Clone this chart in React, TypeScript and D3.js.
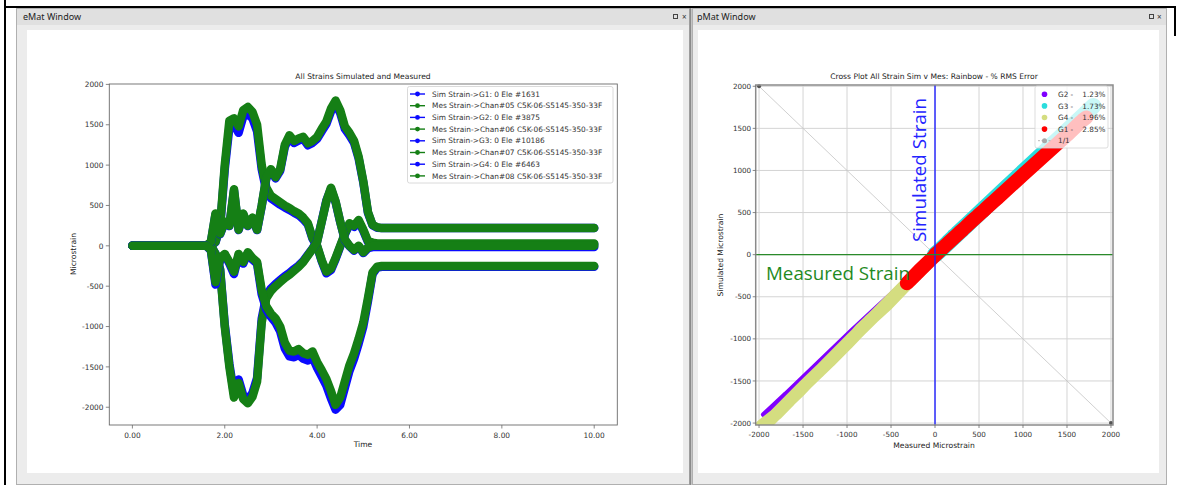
import React from 'react';
import * as d3 from 'd3';

// ---------- DATA ----------
const TIME = [0, 1.6, 1.7, 1.8, 1.9, 2.0, 2.1, 2.2, 2.3, 2.4, 2.5, 2.6, 2.7, 2.8, 2.9, 3.0, 3.1, 3.2, 3.3, 3.4, 3.5, 3.6, 3.7, 3.8, 3.9, 4.0, 4.1, 4.2, 4.3, 4.4, 4.5, 4.6, 4.7, 4.8, 4.9, 5.0, 5.1, 5.2, 5.3, 5.4, 10];

const G1_SIM = [0, 0, 0, 45, 235, 950, 1470, 1500, 1400, 1600, 1630, 1580, 1420, 950, 680, 590, 550, 510, 475, 445, 410, 380, 330, 265, 90, -10, -190, -340, -300, -165, -10, 140, 265, 235, 300, 185, 50, 30, 20, 20, 20];
const G1_MES = [0, 0, 0, 50, 250, 1000, 1550, 1580, 1480, 1680, 1720, 1660, 1500, 1000, 720, 620, 580, 540, 500, 470, 430, 400, 350, 280, 100, 0, -180, -320, -280, -150, 0, 150, 280, 250, 320, 200, 60, 40, 30, 30, 30];
const G2_SIM = [0, 0, 0, -97, -293, -975, -1462, -1833, -1657, -1852, -1900, -1823, -1638, -905, -615, -528, -472, -424, -376, -336, -288, -245, -188, -110, -35, 55, 305, 560, 705, 540, 295, 75, -5, -60, -10, -90, -30, -15, -15, -15, -15];
const G2_MES = [0, 0, 0, -100, -300, -1000, -1500, -1880, -1700, -1900, -1950, -1870, -1680, -950, -650, -560, -500, -450, -400, -360, -310, -260, -200, -120, -40, 50, 300, 550, 720, 550, 300, 80, 0, -50, 0, -80, -20, 0, 0, 0, 0];
const G3_SIM = [0, 0, 45, 390, 145, 290, 245, 685, 195, 390, 245, 340, 195, 490, 835, 930, 835, 930, 1225, 1340, 1275, 1305, 1325, 1245, 1275, 1325, 1420, 1510, 1665, 1765, 1645, 1450, 1370, 1275, 1080, 785, 410, 255, 225, 220, 220];
const G3_MES = [0, 0, 50, 400, 150, 300, 250, 700, 200, 400, 250, 350, 200, 500, 850, 950, 850, 950, 1250, 1370, 1300, 1330, 1350, 1270, 1300, 1350, 1450, 1540, 1700, 1800, 1680, 1480, 1400, 1300, 1100, 800, 420, 260, 230, 220, 220];
const G4_SIM = [0, 0, -60, -480, -170, -110, -220, -350, -120, -220, -90, -170, -220, -600, -790, -880, -950, -1060, -1270, -1370, -1380, -1350, -1400, -1420, -1380, -1510, -1620, -1730, -1890, -2030, -1970, -1760, -1550, -1400, -1210, -1000, -690, -350, -270, -260, -260];
const G4_MES = [0, 0, -50, -450, -150, -100, -200, -320, -100, -200, -80, -150, -200, -550, -750, -840, -900, -1000, -1200, -1300, -1310, -1280, -1330, -1350, -1310, -1440, -1540, -1650, -1800, -1970, -1880, -1680, -1480, -1330, -1150, -950, -650, -330, -260, -250, -250];

const LEFT_LABELS = [
  'Sim Strain->G1: 0 Ele #1631',
  'Mes Strain->Chan#05 C5K-06-S5145-350-33F',
  'Sim Strain->G2: 0 Ele #3875',
  'Mes Strain->Chan#06 C5K-06-S5145-350-33F',
  'Sim Strain->G3: 0 Ele #10186',
  'Mes Strain->Chan#07 C5K-06-S5145-350-33F',
  'Sim Strain->G4: 0 Ele #6463',
  'Mes Strain->Chan#08 C5K-06-S5145-350-33F',
];
const LEFT_X_TICKS = [0, 2, 4, 6, 8, 10];
const LEFT_Y_TICKS = [-2000, -1500, -1000, -500, 0, 500, 1000, 1500, 2000];
const CROSS_TICKS = [-2000, -1500, -1000, -500, 0, 500, 1000, 1500, 2000];
const CROSS_NAMES = ['G2 -', 'G3 -', 'G4 -', 'G1 -'];
const CROSS_ERRORS = ['1.23%', '1.73%', '1.96%', '2.85%'];

const BLUE = '#0a0aff';
const GREEN = '#157f15';
const RAINBOW = ['#8000ff', '#2adddd', '#d4dd80', '#ff0000'];
const FONT = 'DejaVu Sans, sans-serif';
const UI_FONT = 'Noto Sans, sans-serif';

export default function App() {
  // left chart
  const xL = d3.scaleLinear().domain([-0.5, 10.5]).range([109.3, 617.3]);
  const yL = d3.scaleLinear().domain([-2220, 2005]).range([425, 84]);
  const lineL = d3.line<number>().x((_, i) => xL(TIME[i])).y((v) => yL(v));
  const leftSeries = [
    { v: G1_SIM, c: BLUE }, { v: G1_MES, c: GREEN },
    { v: G2_SIM, c: BLUE }, { v: G2_MES, c: GREEN },
    { v: G3_SIM, c: BLUE }, { v: G3_MES, c: GREEN },
    { v: G4_SIM, c: BLUE }, { v: G4_MES, c: GREEN },
  ];

  // cross chart
  const xR = d3.scaleLinear().domain([-2038, 2023]).range([755.7, 1113]);
  const yR = d3.scaleLinear().domain([-2023, 2015]).range([425, 85]);
  const crossSeries = [
    { mes: G2_MES, sim: G2_SIM, c: RAINBOW[0], w: 5 },
    { mes: G3_MES, sim: G3_SIM, c: RAINBOW[1], w: 16 },
    { mes: G4_MES, sim: G4_SIM, c: RAINBOW[2], w: 12.5 },
    { mes: G1_MES, sim: G1_SIM, c: RAINBOW[3], w: 14 },
  ];
  const crossLine = (mes: number[], sim: number[]) =>
    d3.line<number>().x((v) => xR(v)).y((_, i) => yR(sim[i]))(mes) || '';

  const [xr0, xr1] = xR.range();
  const [yr0, yr1] = yR.range();

  return (
    <div style={{ position: 'absolute', left: 0, top: 0 }}>
      <svg width={1181} height={485} style={{ display: 'block', background: '#fff' }}>
        <defs>
          <clipPath id="clipR"><rect x={xr0} y={yr1} width={xr1 - xr0} height={yr0 - yr1} /></clipPath>
        </defs>
        {/* outer frame lines */}
        <rect x={4} y={0} width={2} height={485} fill="#000" />
        <rect x={4} y={6} width={1172} height={2} fill="#000" />
        <rect x={1174} y={6} width={2} height={30} fill="#000" />

        {/* eMat window */}
        <rect x={16.5} y={8.5} width={673} height={476} fill="#ececec" stroke="#b0b0b0" />
        <rect x={17} y={9} width={672} height={16} fill="#e0e0e0" />
        <text x={23} y={20} fontFamily={UI_FONT} fontSize={9} fill="#222">eMat Window</text>
        <rect x={673.5} y={14.5} width={4} height={4} fill="none" stroke="#444" strokeWidth={1} />
        <text x={682} y={20} fontFamily={UI_FONT} fontSize={8} fill="#333">×</text>
        <rect x={27} y={30} width={656} height={443} fill="#fff" />
        <rect x={689.5} y={8} width={2} height={477} fill="#8a8a8a" />

        {/* pMat window */}
        <rect x={692.5} y={8.5} width={474} height={476} fill="#ececec" stroke="#b0b0b0" />
        <rect x={693} y={9} width={473} height={16} fill="#e0e0e0" />
        <text x={697} y={20} fontFamily={UI_FONT} fontSize={9} fill="#222">pMat Window</text>
        <rect x={1149.5} y={14.5} width={4} height={4} fill="none" stroke="#444" strokeWidth={1} />
        <text x={1157} y={20} fontFamily={UI_FONT} fontSize={8} fill="#333">×</text>
        <rect x={698} y={30} width={461} height={443} fill="#fff" />

        {/* ---------- LEFT CHART ---------- */}
        <text x={363} y={79} textAnchor="middle" fontFamily={FONT} fontSize={7.6} fill="#222">All Strains Simulated and Measured</text>
        {leftSeries.map((s, i) => (
          <path key={i} d={lineL(s.v) || ''} fill="none" stroke={s.c} strokeWidth={8.5}
            strokeLinecap="round" strokeLinejoin="round" />
        ))}
        <rect x={109.3} y={84} width={508} height={341} fill="none" stroke="#6a6a6a" strokeWidth={0.9} />
        {LEFT_Y_TICKS.map((t) => (
          <g key={t}>
            <line x1={105.8} x2={109.3} y1={yL(t)} y2={yL(t)} stroke="#6a6a6a" strokeWidth={0.8} />
            <text x={103.5} y={yL(t) + 2.7} textAnchor="end" fontFamily={FONT} fontSize={7.4} fill="#333">{t}</text>
          </g>
        ))}
        {LEFT_X_TICKS.map((t) => (
          <g key={t}>
            <line x1={xL(t)} x2={xL(t)} y1={425} y2={428.5} stroke="#6a6a6a" strokeWidth={0.8} />
            <text x={xL(t)} y={437.5} textAnchor="middle" fontFamily={FONT} fontSize={7.4} fill="#333">{t.toFixed(2)}</text>
          </g>
        ))}
        <text x={363} y={447} textAnchor="middle" fontFamily={FONT} fontSize={7.6} fill="#222">Time</text>
        <text transform="translate(76,254) rotate(-90)" textAnchor="middle" fontFamily={FONT} fontSize={7.6} fill="#222">Microstrain</text>
        {/* left legend */}
        <rect x={407.5} y={86.5} width={205.5} height={96.5} rx={2} fill="#fff" fillOpacity={0.8} stroke="#d0d0d0" strokeWidth={0.8} />
        {LEFT_LABELS.map((lab, i) => {
          const y = 94 + i * 11.7;
          const c = leftSeries[i].c;
          return (
            <g key={lab}>
              <line x1={410} x2={425} y1={y} y2={y} stroke={c} strokeWidth={1.4} />
              <circle cx={417.5} cy={y} r={2.4} fill={c} />
              <text x={432} y={y + 2.6} fontFamily={FONT} fontSize={7.4} fill="#333">{lab}</text>
            </g>
          );
        })}

        {/* ---------- CROSS CHART ---------- */}
        <text x={934} y={79} textAnchor="middle" fontFamily={FONT} fontSize={7.6} fill="#222">Cross Plot All Strain Sim v Mes: Rainbow - % RMS Error</text>
        {CROSS_TICKS.map((t) => (
          <g key={'g' + t}>
            <line x1={xR(t)} x2={xR(t)} y1={yr1} y2={yr0} stroke="#d4d4d4" strokeWidth={1} />
            <line x1={xr0} x2={xr1} y1={yR(t)} y2={yR(t)} stroke="#d4d4d4" strokeWidth={1} />
          </g>
        ))}
        <line x1={xR(-2000)} y1={yR(2000)} x2={xR(2000)} y2={yR(-2000)} stroke="#c4c4c4" strokeWidth={0.8} />
        <circle cx={xR(-2000)} cy={yR(2000)} r={2} fill="#555" />
        <circle cx={xR(2000)} cy={yR(-2000)} r={2} fill="#555" />
        <g clipPath="url(#clipR)">
          {crossSeries.map((s, i) => (
            <path key={i} d={crossLine(s.mes, s.sim)} fill="none" stroke={s.c} strokeWidth={s.w}
              strokeLinecap="round" strokeLinejoin="round" />
          ))}
          <line x1={xR(0)} x2={xR(0)} y1={yr1} y2={yr0} stroke="#2020ff" strokeWidth={1.4} />
          <line x1={xr0} x2={xr1} y1={yR(0)} y2={yR(0)} stroke="#2a8a2a" strokeWidth={1.4} />
        </g>
        <rect x={xr0} y={yr1} width={xr1 - xr0} height={yr0 - yr1} fill="none" stroke="#8a8a8a" strokeWidth={1.5} />
        {CROSS_TICKS.map((t) => (
          <g key={'t' + t}>
            <line x1={xr0 - 3} x2={xr0} y1={yR(t)} y2={yR(t)} stroke="#6a6a6a" strokeWidth={0.8} />
            <text x={xr0 - 4.5} y={yR(t) + 2.6} textAnchor="end" fontFamily={FONT} fontSize={7.2} fill="#333">{t}</text>
            <line x1={xR(t)} x2={xR(t)} y1={yr0} y2={yr0 + 3} stroke="#6a6a6a" strokeWidth={0.8} />
            <text x={xR(t)} y={436.8} textAnchor="middle" fontFamily={FONT} fontSize={7.2} fill="#333">{t}</text>
          </g>
        ))}
        <text x={934} y={448} textAnchor="middle" fontFamily={FONT} fontSize={7.6} fill="#222">Measured Microstrain</text>
        <text transform="translate(723,255) rotate(-90)" textAnchor="middle" fontFamily={FONT} fontSize={7.6} fill="#222">Simulated Microstrain</text>
        {/* cross legend */}
        <rect x={1035} y={86} width={73} height={62} rx={2} fill="#fff" fillOpacity={0.75} stroke="#d4d4d4" strokeWidth={0.8} />
        {CROSS_NAMES.map((n, i) => {
          const y = 94.3 + i * 11.6;
          return (
            <g key={n}>
              <circle cx={1044.5} cy={y} r={2.8} fill={RAINBOW[i]} />
              <text x={1058} y={y + 2.6} fontFamily={FONT} fontSize={7.3} fill="#333">{n}</text>
              <text x={1105.5} y={y + 2.6} textAnchor="end" fontFamily={FONT} fontSize={7.3} fill="#333">{CROSS_ERRORS[i]}</text>
            </g>
          );
        })}
        <line x1={1038} x2={1051} y1={140.7} y2={140.7} stroke="#b0b0b0" strokeWidth={0.9} strokeDasharray="2,1.5" />
        <circle cx={1044.5} cy={140.7} r={2.5} fill="#a8a8a8" />
        <text x={1058} y={143.3} fontFamily={FONT} fontSize={7.3} fill="#333">1/1</text>

        {/* annotations */}
        <text x={766} y={280} fontFamily={'Open Sans, sans-serif'} fontSize={19} fill="#1f8a1f"
          textLength={144} lengthAdjust="spacingAndGlyphs">Measured Strain</text>
        <text transform="translate(926,242) rotate(-90)" fontFamily={'Open Sans, sans-serif'} fontSize={19} fill="#2424ff"
          textLength={144} lengthAdjust="spacingAndGlyphs">Simulated Strain</text>
      </svg>
    </div>
  );
}
